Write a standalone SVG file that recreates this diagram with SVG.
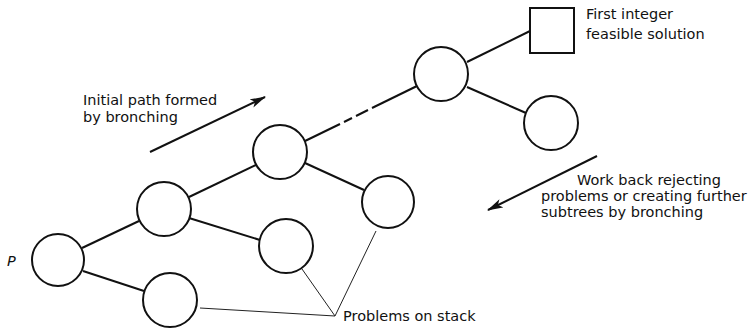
<svg xmlns="http://www.w3.org/2000/svg" width="752" height="332" viewBox="0 0 752 332">
<defs>
<style>
.n{fill:#fff;stroke:#111;stroke-width:2}
.e{stroke:#111;stroke-width:2;fill:none}
.c{stroke:#222;stroke-width:1;fill:none}
.t{font-family:"DejaVu Sans",sans-serif;font-size:14.5px;fill:#111}
</style>
<marker id="ah" viewBox="0 0 16 10" markerWidth="16" markerHeight="10" refX="15" refY="5" orient="auto" markerUnits="userSpaceOnUse">
<path d="M0,0.5 L16,5 L0,9.5 L4,5 z" fill="#111"/>
</marker>
</defs>
<g id="connectors">
<line class="e" x1="82" y1="248" x2="139" y2="221"/>
<line class="e" x1="83" y1="271" x2="144" y2="291"/>
<line class="e" x1="189" y1="197" x2="256" y2="165"/>
<line class="e" x1="189" y1="218" x2="260" y2="240"/>
<line class="e" x1="305" y1="141" x2="340" y2="124"/>
<line class="e" x1="344" y1="122" x2="352" y2="118"/>
<line class="e" x1="356" y1="116" x2="368" y2="110"/>
<line class="e" x1="372" y1="108" x2="417" y2="86"/>
<line class="e" x1="305" y1="163" x2="364" y2="190"/>
<line class="e" x1="467" y1="62" x2="530" y2="31"/>
<line class="e" x1="467" y1="87" x2="526" y2="113"/>
<line class="c" x1="200" y1="308" x2="335" y2="316"/>
<line class="c" x1="302" y1="269" x2="335" y2="316"/>
<line class="c" x1="376" y1="231" x2="335" y2="316"/>
<line class="e" x1="150" y1="152" x2="265" y2="97" marker-end="url(#ah)"/>
<line class="e" x1="597" y1="156" x2="488" y2="210" marker-end="url(#ah)"/>
</g>
<g id="node-P"><circle class="n" cx="58" cy="260" r="26"/><text class="t" x="7" y="266" font-style="italic" font-size="16">P</text></g>
<g id="node-A"><circle class="n" cx="170" cy="300" r="27"/></g>
<g id="node-B"><circle class="n" cx="164" cy="209" r="27"/></g>
<g id="node-C"><circle class="n" cx="286" cy="246" r="27"/></g>
<g id="node-D"><circle class="n" cx="280" cy="152" r="27"/></g>
<g id="node-E"><circle class="n" cx="388" cy="202" r="26"/></g>
<g id="node-F"><circle class="n" cx="441" cy="74" r="27"/></g>
<g id="node-G"><circle class="n" cx="551" cy="123" r="27"/></g>
<g id="node-solution"><rect class="n" x="530" y="8" width="44" height="45"/></g>
<g id="labels">
<text class="t" x="83" y="105">Initial path formed</text>
<text class="t" x="83" y="122">by bronching</text>
<text class="t" x="586" y="19">First integer</text>
<text class="t" x="586" y="39">feasible solution</text>
<text class="t" x="577" y="185">Work back rejecting</text>
<text class="t" x="541" y="201">problems or creating further</text>
<text class="t" x="541" y="217">subtrees by bronching</text>
<text class="t" x="343" y="321">Problems on stack</text>
</g>
</svg>
